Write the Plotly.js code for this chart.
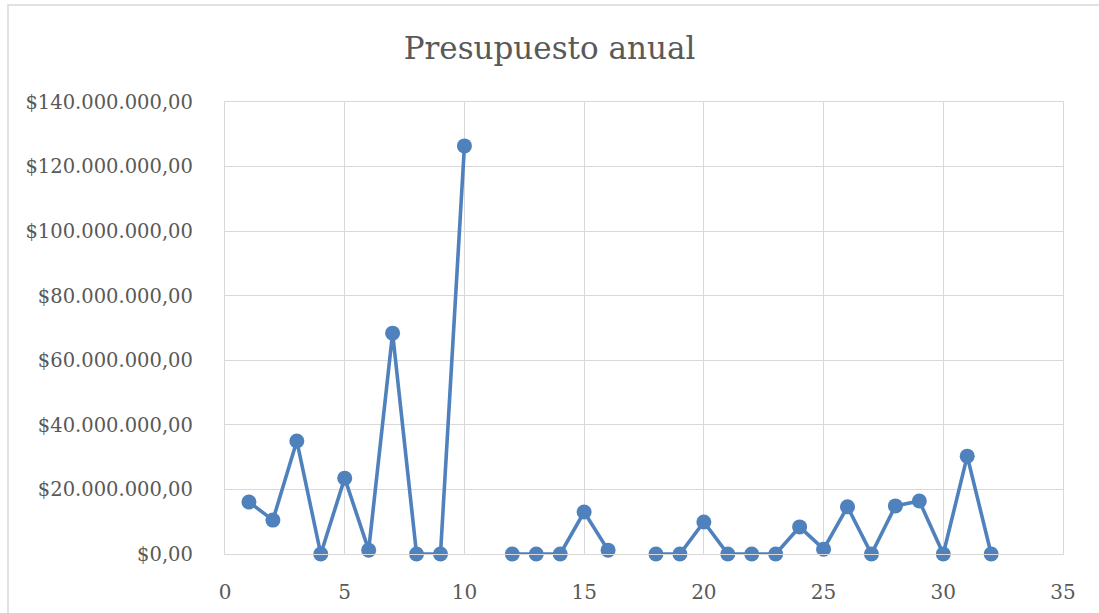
<!DOCTYPE html>
<html>
<head>
<meta charset="utf-8">
<script src="https://cdn.plot.ly/plotly-3.0.1.min.js"></script>
<style>html,body{margin:0;padding:0;background:#fff;}#chart{width:1099px;height:613px;}</style>
</head>
<body>
<div id="chart"></div>
<script>
const xValues = [1,2,3,4,5,6,7,8,9,10,11,12,13,14,15,16,17,18,19,20,21,22,23,24,25,26,27,28,29,30,31,32];
const presupuesto = [16100000,10500000,35000000,0,23500000,1200000,68400000,0,0,126400000,null,0,0,0,13000000,1200000,null,0,0,9900000,0,0,0,8400000,1500000,14600000,0,14900000,16400000,0,30300000,0];
const xTicks = [0,5,10,15,20,25,30,35];
const yTicks = [0,20000000,40000000,60000000,80000000,100000000,120000000,140000000];
const yTickText = ['$0,00','$20.000.000,00','$40.000.000,00','$60.000.000,00','$80.000.000,00','$100.000.000,00','$120.000.000,00','$140.000.000,00'];

const font = "DejaVu Serif, Liberation Serif, serif";
const data = [{
  x: xValues, y: presupuesto, type: 'scatter', mode: 'lines+markers',
  connectgaps: false, cliponaxis: false,
  line: {color: '#4F81BD', width: 3.6},
  marker: {color: '#4F81BD', size: 15},
  hoverinfo: 'x+y'
}];
const layout = {
  width: 1099, height: 613,
  margin: {l: 225, r: 36, t: 102, b: 59},
  paper_bgcolor: '#fff', plot_bgcolor: '#fff',
  showlegend: false,
  title: {text: 'Presupuesto anual', font: {family: font, size: 31, color: '#595959'},
          x: 0.5, xanchor: 'center', y: 1 - 48/613, yanchor: 'middle'},
  xaxis: {range: [0, 35], tickvals: xTicks, ticktext: xTicks.map(String),
          showgrid: true, gridcolor: '#D9D9D9', gridwidth: 1.3, zeroline: false,
          showline: true, linecolor: '#D9D9D9', linewidth: 1.3, mirror: true,
          ticks: '', ticklabelstandoff: 20,
          tickfont: {family: font, size: 20, color: '#595959'}, fixedrange: true},
  yaxis: {range: [0, 140000000], tickvals: yTicks, ticktext: yTickText,
          showgrid: true, gridcolor: '#D9D9D9', gridwidth: 1.3, zeroline: false,
          showline: true, linecolor: '#D9D9D9', linewidth: 1.3, mirror: true,
          ticks: '', ticklabelstandoff: 27,
          tickfont: {family: font, size: 19.5, color: '#595959'}, fixedrange: true},
  shapes: [{type: 'rect', xref: 'paper', yref: 'paper',
            x0: (8 - 225) / 838, x1: 1.2, y0: -0.3, y1: (554 - 5) / 452,
            line: {color: '#D9D9D9', width: 1.5}, fillcolor: 'rgba(0,0,0,0)', layer: 'below'}]
};
Plotly.newPlot('chart', data, layout, {displayModeBar: false});
</script>
</body>
</html>
